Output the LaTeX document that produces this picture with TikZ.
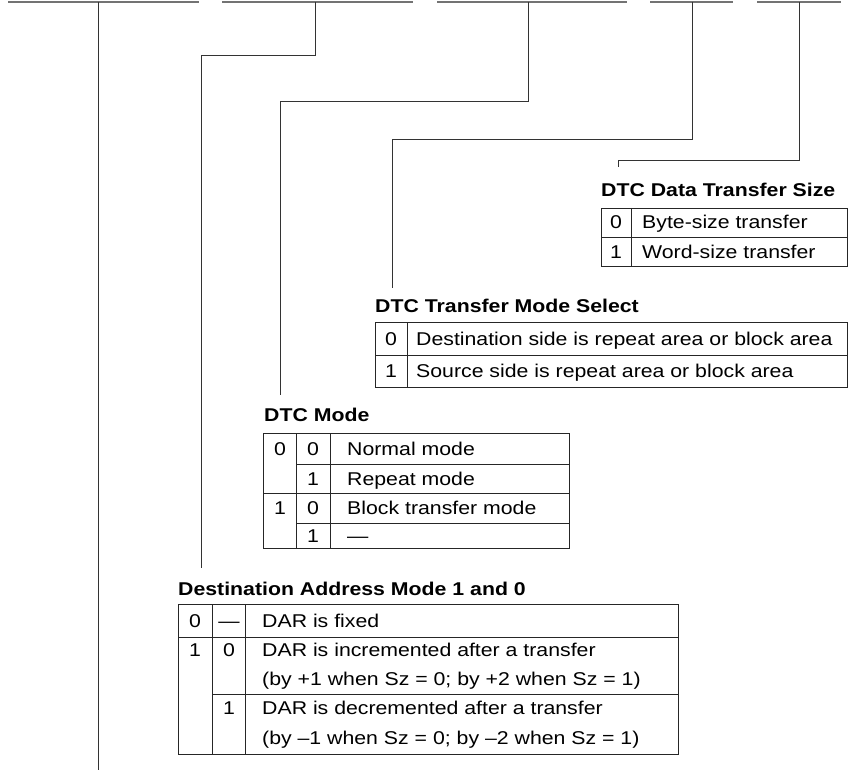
\documentclass[tikz,border=0pt]{standalone}
\usepackage{fontspec}
\setmainfont{Liberation Sans}[FakeStretch=1.15]
\usepackage{tikz}

\tikzset{
  bar/.style={line width=1.6pt, black!55},
  lead/.style={line width=0.9pt, black!80},
  grid/.style={line width=0.9pt, black!85},
  txt/.style={font=\fontsize{18.5}{22}\selectfont, inner sep=0pt, text height=13pt, text depth=0pt},
  ttl/.style={txt, font=\fontsize{18.5}{22}\selectfont\bfseries, anchor=west},
  cell/.style={txt, anchor=west},
  bit/.style={txt, anchor=center}
}

\begin{document}
\begin{tikzpicture}[x=1pt, y=-1pt]
  \useasboundingbox (0,0) rectangle (851,770);
  % Bit fields along the top
  \draw[bar] (8,2) -- (199,2);
  \draw[bar] (222,2) -- (413,2);
  \draw[bar] (437,2) -- (627,2);
  \draw[bar] (650,2) -- (733,2);
  \draw[bar] (757,2) -- (841,2);
  \coordinate (b1) at (98,2);
  \coordinate (b2) at (315,2);
  \coordinate (b3) at (528,2);
  \coordinate (b4) at (692,2);
  \coordinate (b5) at (799,2);
  % Corners and ends of the leaders
  \coordinate (k2) at (201,55.7);
  \coordinate (k3) at (280,101);
  \coordinate (k4) at (392,139);
  \coordinate (k5) at (618,160);
  \coordinate (e1) at (98,770);
  \coordinate (e2) at (201,568);
  \coordinate (e3) at (280,395);
  \coordinate (e4) at (392,288);
  \coordinate (e5) at (618,167);
  \draw[lead] (b1) -- (e1);
  \draw[lead] (b2) |- (k2) -- (e2);
  \draw[lead] (b3) |- (k3) -- (e3);
  \draw[lead] (b4) |- (k4) -- (e4);
  \draw[lead] (b5) |- (k5) -- (e5);

  % DTC Data Transfer Size
  \node[ttl] (dtsT) at (601,190) {DTC Data Transfer Size};
  \draw[grid] (601,208) rectangle (847,266);
  \draw[grid] (631,208) -- (631,266);
  \draw[grid] (601,237) -- (847,237);
  \node[bit]  (dts0) at (616,222.5) {0};
  \node[cell] (dts0t) at (642,222.5) {Byte-size transfer};
  \node[bit]  (dts1) at (616,251.5) {1};
  \node[cell] (dts1t) at (642,251.5) {Word-size transfer};

  % DTC Transfer Mode Select
  \node[ttl] (tmsT) at (375,306) {DTC Transfer Mode Select};
  \draw[grid] (375,322) rectangle (847,387);
  \draw[grid] (407,322) -- (407,387);
  \draw[grid] (375,355) -- (847,355);
  \node[bit]  (tms0) at (391,338.5) {0};
  \node[cell] (tms0t) at (416,338.5) {Destination side is repeat area or block area};
  \node[bit]  (tms1) at (391,371) {1};
  \node[cell] (tms1t) at (416,371) {Source side is repeat area or block area};

  % DTC Mode
  \node[ttl] (modT) at (264,415) {DTC Mode};
  \draw[grid] (263,433) rectangle (569,548);
  \draw[grid] (296,433) -- (296,548);
  \draw[grid] (330,433) -- (330,548);
  \draw[grid] (296,464) -- (569,464);
  \draw[grid] (263,493) -- (569,493);
  \draw[grid] (296,523) -- (569,523);
  \node[bit] (mod0) at (280,448.5) {0};
  \node[bit] (mod1) at (280,508) {1};
  \node[bit] (mod00) at (313,448.5) {0};
  \node[bit] (mod01) at (313,478.5) {1};
  \node[bit] (mod10) at (313,508) {0};
  \node[bit] (mod11) at (313,535.5) {1};
  \node[cell] (mod00t) at (347,448.5) {Normal mode};
  \node[cell] (mod01t) at (347,478.5) {Repeat mode};
  \node[cell] (mod10t) at (347,508) {Block transfer mode};
  \node[cell] (mod11t) at (347,535.5) {—};

  % Destination Address Mode 1 and 0
  \node[ttl] (dstT) at (178,589) {Destination Address Mode 1 and 0};
  \draw[grid] (178,604) rectangle (678,754);
  \draw[grid] (212,604) -- (212,754);
  \draw[grid] (245.5,604) -- (245.5,754);
  \draw[grid] (178,637) -- (678,637);
  \draw[grid] (212,694) -- (678,694);
  \node[bit] (dst0) at (195,620.5) {0};
  \node[bit] (dst0x) at (229,620.5) {—};
  \node[cell] (dst0t) at (262,620.5) {DAR is fixed};
  \node[bit] (dst1) at (195,650) {1};
  \node[bit] (dst10) at (229,650) {0};
  \node[cell] (dst10t) at (262,650) {DAR is incremented after a transfer};
  \node[cell] (dst10u) at (262,679) {(by +1 when Sz = 0; by +2 when Sz = 1)};
  \node[bit] (dst11) at (229,708) {1};
  \node[cell] (dst11t) at (262,708) {DAR is decremented after a transfer};
  \node[cell] (dst11u) at (262,738) {(by –1 when Sz = 0; by –2 when Sz = 1)};
\end{tikzpicture}
\end{document}
